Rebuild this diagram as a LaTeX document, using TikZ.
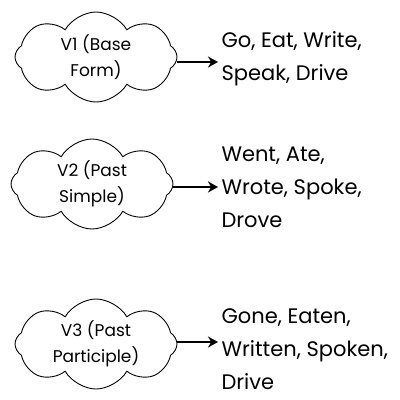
\documentclass[tikz,border=0pt]{standalone}
\usepackage{fontspec}
\setmainfont{Poppins}
\usetikzlibrary{shapes.symbols,arrows.meta}
\begin{document}
\begin{tikzpicture}[x=1pt,y=-1pt,
  cloudbox/.style={cloud, cloud puffs=8, cloud puff arc=120, aspect=1.8, draw, line width=0.9pt,
    minimum width=162pt, minimum height=90pt, inner sep=0pt, align=center,
    font=\fontsize{17}{26}\selectfont},
  forms/.style={anchor=west, align=left, font=\fontsize{21}{33}\selectfont},
  conn/.style={-{Stealth[length=10pt,width=11pt]}, line width=2.2pt}]
\useasboundingbox (0,0) rectangle (400,400);
\node[cloudbox] (c1) at (96,57) {V1 (Base\\Form)};
\node[cloudbox] (c2) at (92,184) {V2 (Past\\Simple)};
\node[cloudbox] (c3) at (96,344) {V3 (Past\\Participle)};
\node[forms] (t1) at (218,59) {Go, Eat, Write,\\Speak, Drive};
\node[forms] (t2) at (218,187) {Went, Ate,\\Wrote, Spoke,\\Drove};
\node[forms] (t3) at (218,349) {Gone, Eaten,\\Written, Spoken,\\Drive};
\draw[conn] (c1.east |- 0,62) -- (t1.west |- 0,62);
\draw[conn] (c2.east |- 0,187) -- (t2.west |- 0,187);
\draw[conn] (c3.east |- 0,342) -- (t3.west |- 0,342);
\end{tikzpicture}
\end{document}
